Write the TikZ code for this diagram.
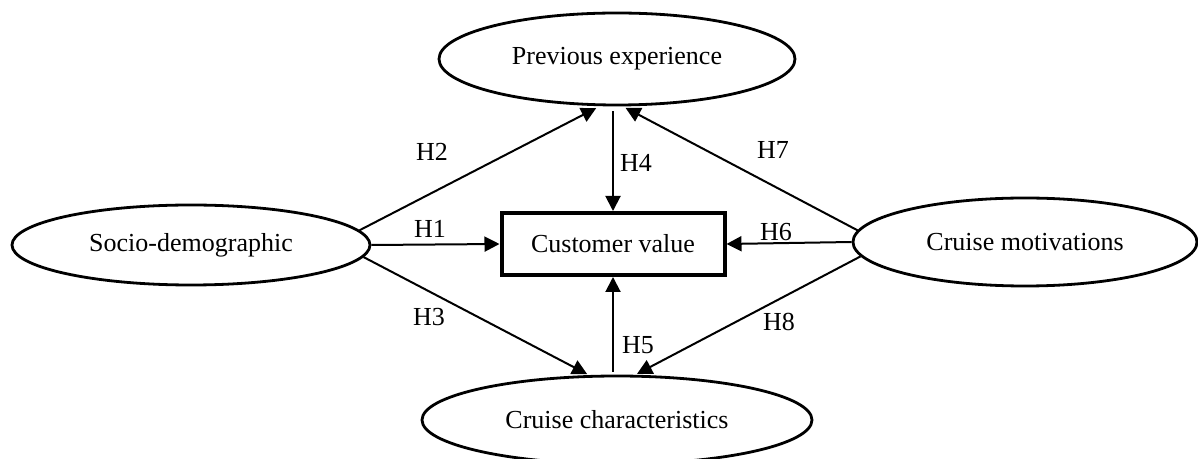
\documentclass[tikz,border=0pt]{standalone}
\usepackage{fontspec}
\setmainfont{Liberation Serif}
\usetikzlibrary{shapes.geometric, arrows.meta, positioning}

\begin{document}
\begin{tikzpicture}[
  x=0.5pt, y=-0.5pt,
  >={Triangle[length=7.5pt, width=7.5pt]},
  font=\fontsize{13}{15.6}\selectfont,
  construct/.style={ellipse, draw, line width=1.4pt, inner sep=0pt},
  valuebox/.style={rectangle, draw, line width=2pt, minimum width=111.5pt, minimum height=31pt},
  path/.style={->, line width=1pt},
  hyp/.style={inner sep=0pt},
]
  \useasboundingbox (0,0) rectangle (1198,459);

  \node[construct, minimum width=179pt, minimum height=40pt] (socio) at (191,245) {Socio-demographic};
  \node[construct, minimum width=178pt, minimum height=46pt] (prev) at (617,59) {Previous experience};
  \node[construct, minimum width=172pt, minimum height=44pt] (motiv) at (1025,242) {Cruise motivations};
  \node[construct, minimum width=195pt, minimum height=44pt] (chars) at (617,420) {Cruise characteristics};
  \node[valuebox] (cv) at (613,244) {Customer value};

  % hypotheses
  \draw[path, shorten >=2pt] (socio.5) -- (prev.-110);
  \draw[path] (socio.east) -- (cv.west);
  \draw[path, shorten >=1pt] (socio.-4) -- (chars.122);
  \draw[path, shorten <=2.5pt] (prev.south -| cv.north) -- (cv.north);
  \draw[path, shorten <=1.5pt] (chars.north -| cv.south) -- (cv.south);
  \draw[path] (motiv.west) -- (cv.east);
  \draw[path, shorten >=1.5pt] (motiv.176) -- (prev.-83);
  \draw[path, shorten >=1pt] (motiv.-175) -- (chars.68);

  \node[hyp] (h1) at (430,229) {H1};
  \node[hyp] (h2) at (432,152) {H2};
  \node[hyp] (h3) at (429,317) {H3};
  \node[hyp] (h4) at (636,163) {H4};
  \node[hyp] (h5) at (638,345) {H5};
  \node[hyp] (h6) at (776,232) {H6};
  \node[hyp] (h7) at (773,150) {H7};
  \node[hyp] (h8) at (779,322) {H8};
\end{tikzpicture}
\end{document}
